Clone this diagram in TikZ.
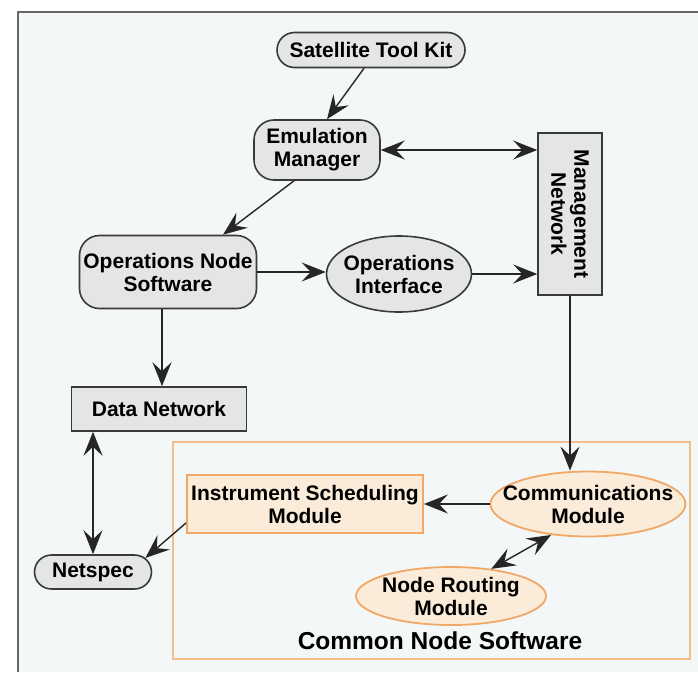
\documentclass[tikz,border=0pt]{standalone}
\usepackage{fontspec}
\setmainfont{Liberation Sans}
\usetikzlibrary{arrows.meta,shapes.geometric,shapes.misc}

\definecolor{paper}{HTML}{F4F7F7}
\definecolor{boxfill}{HTML}{E4E5E5}
\definecolor{boxline}{HTML}{3A3A3A}
\definecolor{modline}{HTML}{F0A868}
\definecolor{modfill}{HTML}{FBEBD9}
\definecolor{grpline}{HTML}{F4BE8C}

\tikzset{
  lbl/.style={font=\bfseries\fontsize{21}{23}\selectfont, align=center, text=black},
  gbox/.style={lbl, draw=boxline, fill=boxfill, line width=1.6pt, inner sep=0pt},
  pillbox/.style={gbox, rounded rectangle},
  softbox/.style={gbox, rounded corners=20pt},
  ovalbox/.style={gbox, ellipse, inner xsep=-25pt},
  modbox/.style={lbl, draw=modline, fill=modfill, line width=1.8pt, inner sep=0pt},
  modoval/.style={modbox, ellipse, inner xsep=-25pt},
  tip/.tip={Stealth[length=24pt,width=19pt,inset=9pt]},
  flow/.style={line width=1.4pt, draw=black!85, -tip},
  twoway/.style={flow, tip-tip}
}

\begin{document}
\begin{tikzpicture}[x=1pt,y=-1pt]
		%%%%% START %%%%%
		\useasboundingbox (0,0) rectangle (698,672);
		\fill[paper] (18,12) rectangle (698,672);
		\draw[line width=2.8pt, color=black!60] (18,672) -- (18,12) -- (698,12);
		
		% common node software group
		\node[draw=grpline, line width=1.8pt, minimum width=517pt, minimum height=217pt, inner sep=0pt] (cns) at (431.5,550.5) {};
		\node[lbl, font=\bfseries\fontsize{24.5}{27}\selectfont] (cnslbl) at (440,641) {Common Node Software};
		
		\node[pillbox, minimum width=188pt, minimum height=35pt] (stk) at (371,50) {Satellite Tool Kit};
		\node[softbox, minimum width=126pt, minimum height=60pt] (em) at (317,150) {Emulation\\Manager};
		\node[gbox, rotate=-90, minimum width=162pt, minimum height=64pt] (mn) at (570,214) {Management\\Network};
		
		\node[softbox, minimum width=177pt, minimum height=73pt] (ons) at (168,272) {Operations Node\\Software};
		\node[ovalbox, minimum width=145pt, minimum height=76pt] (oi) at (399,274) {Operations\\Interface};
		
		\node[gbox, minimum width=175pt, minimum height=44pt] (dn) at (159,409) {Data Network};
		\node[pillbox, minimum width=117pt, minimum height=34pt] (ns) at (93,572) {Netspec};
		
		\node[modbox, minimum width=236pt, minimum height=58pt] (ism) at (305,504) {Instrument Scheduling\\Module};
		\node[modoval, minimum width=195pt, minimum height=65pt] (cm) at (588,504) {Communications\\Module};
		\node[modoval, minimum width=190pt, minimum height=58pt] (nrm) at (451,596) {Node Routing\\Module};
		
		% connectors
		\draw[flow] ([xshift=-7pt]stk.south) -- ([xshift=10pt]em.north);
		\draw[twoway] (em.east) -- (em.east -| mn.south);
		\draw[flow] ([xshift=-23pt]em.south) -- ([xshift=55pt]ons.north);
		\draw[flow] (ons.east) -- (ons.east -| oi.west);
		\draw[flow] (oi.east) -- (oi.east -| mn.south);
		\draw[flow] ([xshift=-6pt]ons.south) -- ([xshift=-6pt]ons.south |- dn.north);
		\draw[twoway] (ns.north |- dn.south) -- (ns.north);
		\draw[flow] (mn.east) -- (mn.east |- cm.north);
		\draw[flow] (cm.west) -- (ism.east);
		\draw[twoway] (cm.220) -- (nrm.34);
		\draw[flow] ([yshift=11pt]ism.south west) -- (ns.15);
		
		%%%%% END %%%%%
\end{tikzpicture}
\end{document}
